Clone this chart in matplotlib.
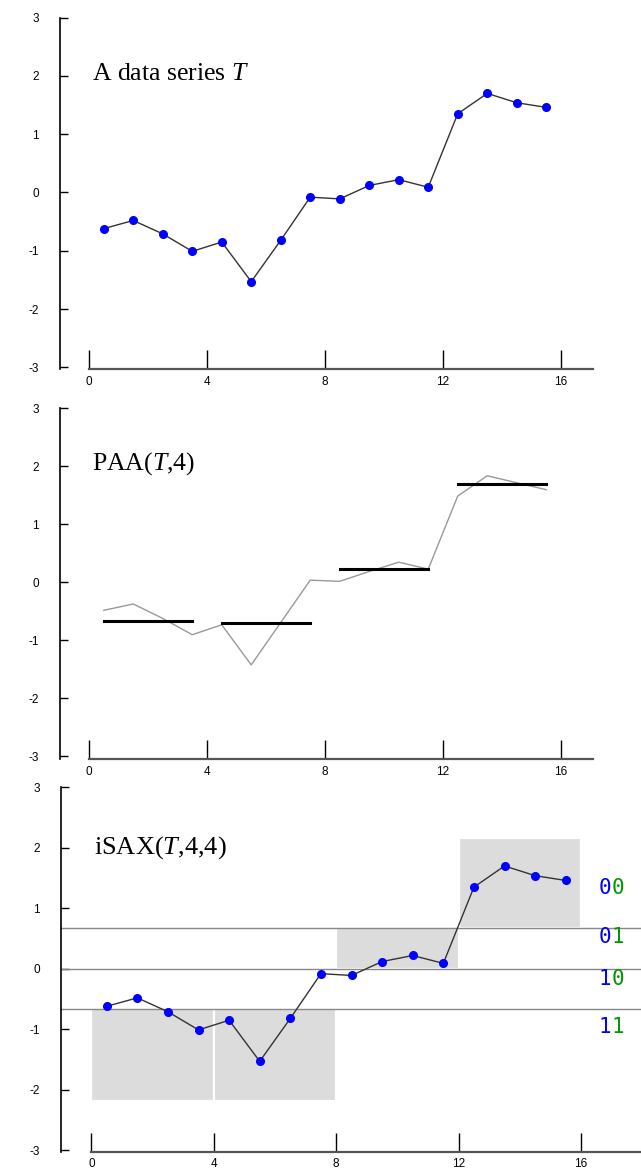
import numpy as np
import matplotlib
matplotlib.use("Agg")
import matplotlib.pyplot as plt
from matplotlib.patches import Rectangle
from matplotlib.transforms import offset_copy

# fontes: serifada para os títulos, T em itálico via mathtext
plt.rcParams["font.family"] = "Liberation Sans"
plt.rcParams["axes.unicode_minus"] = False
plt.rcParams["mathtext.fontset"] = "custom"
plt.rcParams["mathtext.rm"] = "Liberation Serif"
plt.rcParams["mathtext.it"] = "Liberation Serif:italic"

# Série T (16 pontos)
serie_t = [-0.62, -0.48, -0.71, -1.01, -0.85, -1.53, -0.82, -0.08,
           -0.11, 0.12, 0.22, 0.09, 1.35, 1.70, 1.54, 1.46]
# linha cinza do painel PAA
serie_cinza = [-0.48, -0.37, -0.62, -0.90, -0.73, -1.42, -0.69, 0.04,
               0.02, 0.19, 0.35, 0.23, 1.49, 1.84, 1.72, 1.60]
# valores PAA por segmento
paa = [-0.67, -0.69, 0.23, 1.70]
# iSAX: limites (breakpoints) e caixas de cada segmento
breakpoints = [-0.67, 0.0, 0.67]
caixa_inf = [-2.18, -2.18, 0.0, 0.67]
caixa_sup = [-0.67, -0.67, 0.67, 2.17]
codigos = ["00", "01", "10", "11"]
codigos_y = [1.34, 0.53, -0.17, -0.96]

x_ticks = [0, 4, 8, 12, 16]
y_ticks = [-3, -2, -1, 0, 1, 2, 3]

x = np.arange(len(serie_t)) + 0.5

fig = plt.figure(figsize=(6.41, 11.72), dpi=100)


def estilo_eixos(ax, xlim, ylim, x_fim):
    ax.set_xlim(*xlim)
    ax.set_ylim(*ylim)
    for s in ["top", "right"]:
        ax.spines[s].set_visible(False)
    ax.spines["left"].set_bounds(ylim[0], 3)
    ax.spines["left"].set_linewidth(1.2)
    ax.spines["bottom"].set_bounds(0, x_fim)
    ax.spines["bottom"].set_linewidth(1.6)
    ax.spines["bottom"].set_color("#555555")
    ax.set_xticks(x_ticks)
    ax.set_yticks(y_ticks)
    ax.tick_params(axis="x", direction="in", length=14, width=1, pad=5,
                   labelsize=8.5)
    ax.tick_params(axis="y", direction="in", length=6, width=1, pad=15,
                   labelsize=8.5)
    ax.patch.set_alpha(0)


# Painel 1 - série de dados
ax1 = fig.add_axes([60 / 641, 1 - 369.1 / 1172, 534 / 641, 354.4 / 1172])
estilo_eixos(ax1, (-0.983, 17.12), (-3.03, 3.05), 17.1)
ax1.plot(x, serie_t, color="#333333", lw=1, marker="o", markersize=5.5,
         markerfacecolor="#0000ff", markeredgecolor="#0000ff", zorder=3)
ax1.text(0.1, 1.93, r"A data series $T$", fontsize=18.5,
         family="Liberation Serif", va="baseline")

# Painel 2 - PAA
ax2 = fig.add_axes([60 / 641, 1 - 758.8 / 1172, 534 / 641, 353.2 / 1172])
estilo_eixos(ax2, (-0.983, 17.12), (-3.04, 3.05), 17.1)
ax2.plot(x, serie_cinza, color="#999999", lw=1)
for i, v in enumerate(paa):
    ax2.plot([x[4 * i], x[4 * i + 3]], [v, v], color="black", lw=2.2)
ax2.text(0.1, 1.95, r"PAA($T$,4)", fontsize=18.5,
         family="Liberation Serif", va="baseline")

# Painel 3 - iSAX
ax3 = fig.add_axes([60.5 / 641, 1 - 1151.5 / 1172, 580.5 / 641, 367.2 / 1172])
estilo_eixos(ax3, (-1.01, 17.96), (-3.02, 3.05), 17.96)
for i in range(4):
    ax3.add_patch(Rectangle((4 * i, caixa_inf[i]), 4, caixa_sup[i] - caixa_inf[i],
                            facecolor="#dcdcdc", edgecolor="white", lw=1.6, zorder=1))
for b in breakpoints:
    ax3.axhline(b, color="#888888", lw=1, zorder=2)
ax3.plot(x, serie_t, color="#333333", lw=1, marker="o", markersize=5.5,
         markerfacecolor="#0000ff", markeredgecolor="#0000ff", zorder=3)
ax3.text(0.09, 1.90, r"iSAX($T$,4,4)", fontsize=19,
         family="Liberation Serif", va="baseline")

# rótulos binários: 1º dígito azul, 2º verde
tam = 15
desloc = offset_copy(ax3.transData, fig=fig, x=0.602 * tam, y=0, units="points")
for cod, yc in zip(codigos, codigos_y):
    ax3.text(16.58, yc, cod[0], color="#0000ff", fontsize=tam,
             family="DejaVu Sans Mono", va="center", ha="left")
    ax3.text(16.58, yc, cod[1], color="#009900", fontsize=tam,
             family="DejaVu Sans Mono", va="center", ha="left", transform=desloc)

fig.savefig("out.png", dpi=100)
